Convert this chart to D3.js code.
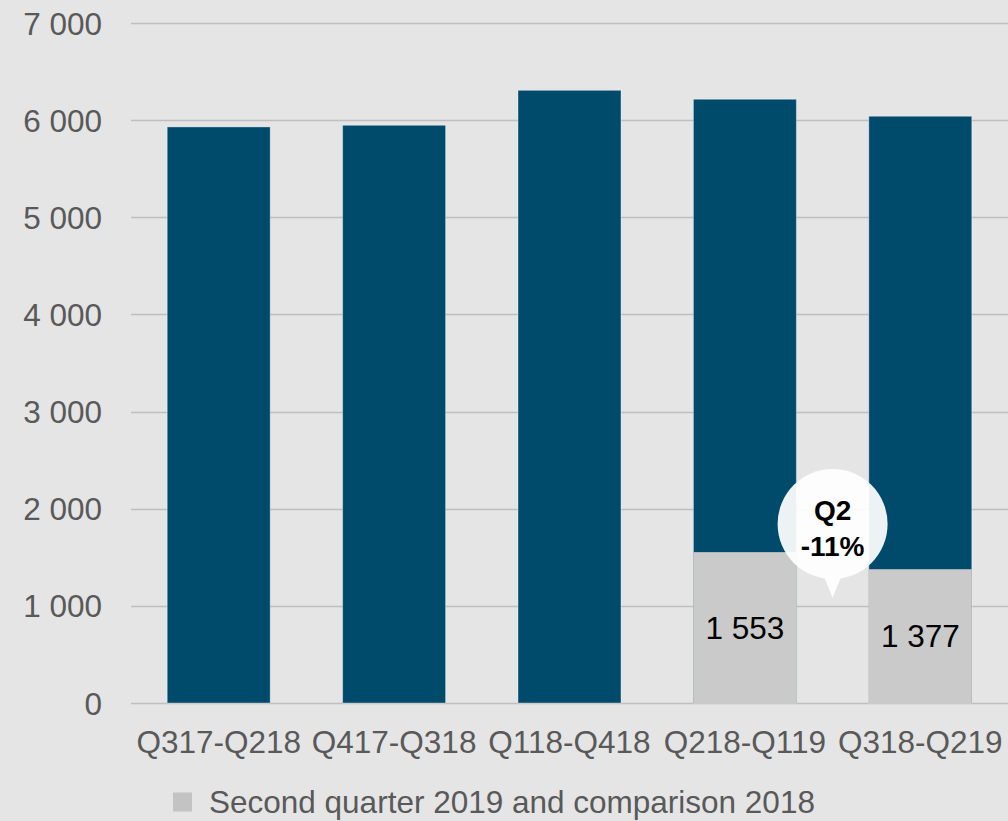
<!DOCTYPE html>
<html>
<head>
<meta charset="utf-8">
<script src="https://cdn.jsdelivr.net/npm/d3@7"></script>
<style>
  html, body { margin: 0; padding: 0; background: #e5e5e5; }
  svg { display: block; font-family: "Liberation Sans", Arial, sans-serif; }
</style>
</head>
<body>
<svg id="chart" width="1008" height="821"></svg>
<script>
// ---- data ----
const categories = ["Q317-Q218", "Q417-Q318", "Q118-Q418", "Q218-Q119", "Q318-Q219"];
const totalValues = [5930, 5947, 6307, 6215, 6040];        // rolling 12 months (total bar height)
const quarterValues = [null, null, null, 1553, 1377];      // second quarter 2019 and comparison 2018
const quarterLabels = ["", "", "", "1 553", "1 377"];
const yTicks = [0, 1000, 2000, 3000, 4000, 5000, 6000, 7000];
const legendLabel = "Second quarter 2019 and comparison 2018";
const calloutLines = ["Q2", "-11%"];

// ---- layout ----
const svg = d3.select("#chart");
const W = 1008, H = 821;
const plotBottom = 703;

svg.append("rect").attr("width", W).attr("height", H).attr("fill", "#e5e5e5");

const x = d3.scaleBand()
  .domain(categories)
  .range([131, 1008])
  .paddingInner(0.413)
  .paddingOuter(0.2065);

const y = d3.scaleLinear().domain([0, 7000]).range([plotBottom, 23]);

const fmt = v => d3.format(",")(v).replace(/,/g, " ");

// gridlines
svg.append("g")
  .selectAll("line")
  .data(yTicks)
  .join("line")
  .attr("x1", 131).attr("x2", W)
  .attr("y1", d => Math.round(y(d)) + 0.5)
  .attr("y2", d => Math.round(y(d)) + 0.5)
  .attr("stroke", "#bfbfbf")
  .attr("stroke-width", 1.5);

// y axis labels
const yAxis = d3.axisLeft(y).tickValues(yTicks).tickFormat(fmt).tickSize(0).tickPadding(0);
const yg = svg.append("g").attr("transform", "translate(102,0)").call(yAxis);
yg.select(".domain").remove();
yg.selectAll("text")
  .attr("fill", "#595959")
  .attr("font-size", "31.5px")
  .attr("font-family", "Liberation Sans, Arial, sans-serif")
  .attr("dy", "0.35em");

// bars: total (dark)
const bars = svg.append("g");
bars.selectAll("rect.total")
  .data(categories)
  .join("rect")
  .attr("class", "total")
  .attr("x", d => x(d))
  .attr("width", x.bandwidth())
  .attr("y", (d, i) => y(totalValues[i]))
  .attr("height", (d, i) => y(0) - y(totalValues[i]))
  .attr("fill", "#004b6b")
  .attr("stroke", "rgba(255,255,255,0.35)")
  .attr("stroke-width", 1);

// bars: quarter (light grey, bottom segment)
const qData = categories.map((c, i) => ({ c, v: quarterValues[i], label: quarterLabels[i] })).filter(d => d.v != null);
bars.selectAll("rect.q")
  .data(qData)
  .join("rect")
  .attr("class", "q")
  .attr("x", d => x(d.c))
  .attr("width", x.bandwidth())
  .attr("y", d => y(d.v))
  .attr("height", d => y(0) - y(d.v))
  .attr("fill", "#cacaca");

// quarter labels
svg.append("g").selectAll("text")
  .data(qData)
  .join("text")
  .attr("x", d => x(d.c) + x.bandwidth() / 2)
  .attr("y", d => (y(d.v) + y(0)) / 2)
  .attr("dy", "0.35em")
  .attr("text-anchor", "middle")
  .attr("font-size", "31.5px")
  .attr("fill", "#000")
  .text(d => d.label);

// x axis labels
const xAxis = d3.axisBottom(x).tickSize(0).tickPadding(0);
const xg = svg.append("g").attr("transform", "translate(0,742)").call(xAxis);
xg.select(".domain").remove();
xg.selectAll("text")
  .attr("fill", "#595959")
  .attr("font-size", "31.5px")
  .attr("font-family", "Liberation Sans, Arial, sans-serif")
  .attr("dy", "0.35em");

// callout bubble between the last two bars
const cx = (x(categories[3]) + x.bandwidth() + x(categories[4])) / 2;
const cy = 524, r = 55;
const tipY = y(1000) - 8;
const bubble = svg.append("g");
const shape = bubble.append("g").attr("opacity", 0.93);
shape.append("path")
  .attr("d", `M${cx - 11},${cy + r - 8} L${cx},${tipY} L${cx + 11},${cy + r - 8} Z`)
  .attr("fill", "#ffffff");
shape.append("circle")
  .attr("cx", cx).attr("cy", cy).attr("r", r)
  .attr("fill", "#ffffff");
bubble.selectAll("text")
  .data(calloutLines)
  .join("text")
  .attr("x", cx)
  .attr("y", (d, i) => 510 + i * 36)
  .attr("dy", "0.35em")
  .attr("text-anchor", "middle")
  .attr("font-size", "28px")
  .attr("font-weight", "bold")
  .attr("fill", "#000")
  .text(d => d);

// legend
const lg = svg.append("g");
lg.append("rect")
  .attr("x", 173).attr("y", 792.5).attr("width", 19).attr("height", 19)
  .attr("fill", "#c3c3c3");
lg.append("text")
  .attr("x", 209).attr("y", 801.5)
  .attr("dy", "0.35em")
  .attr("font-size", "31.5px")
  .attr("fill", "#595959")
  .text(legendLabel);
</script>
</body>
</html>
